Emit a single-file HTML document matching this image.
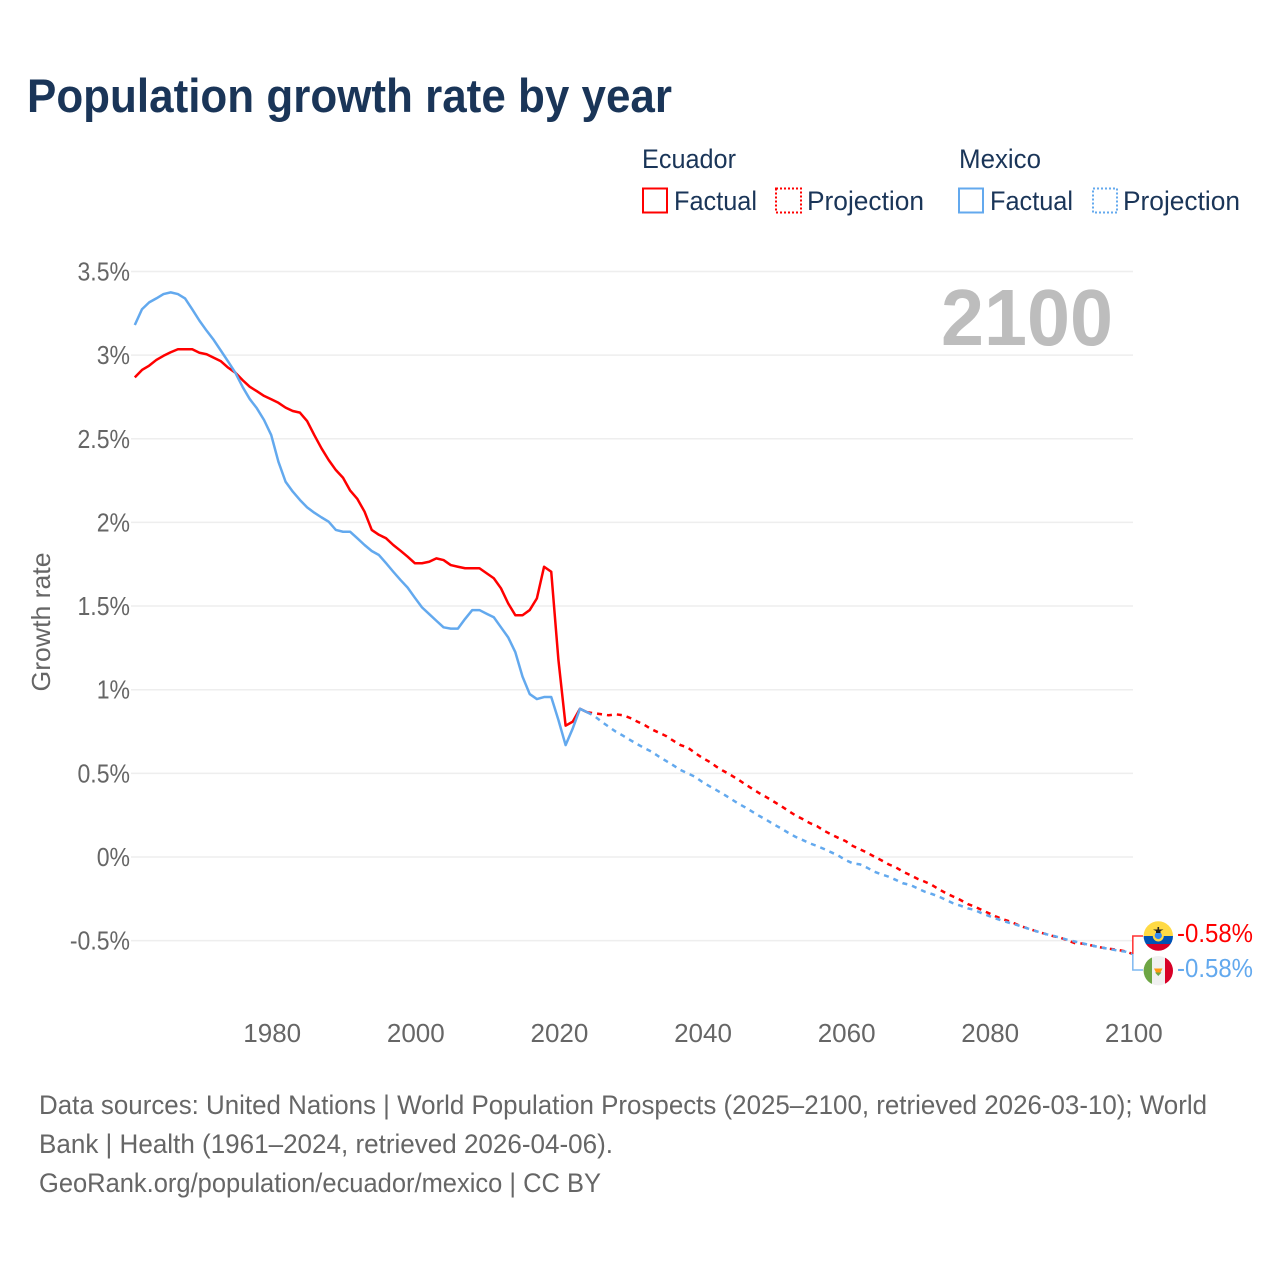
<!DOCTYPE html>
<html lang="en">
<head>
<meta charset="utf-8">
<title>Population growth rate by year</title>
<style>
html,body{margin:0;padding:0;background:#fff;}
svg{display:block;font-family:"Liberation Sans",sans-serif;}
.axis-text{font-size:26px;fill:#666;}
.legend-text{font-size:27px;fill:#1a3558;}
.source-text{font-size:27px;fill:#666;}
</style>
</head>
<body>
<svg id="chart" width="1280" height="1280" viewBox="0 0 1280 1280" xmlns="http://www.w3.org/2000/svg">
  <rect x="0" y="0" width="1280" height="1280" fill="#fff"/>
  <text x="27" y="112" font-size="47" font-weight="700" fill="#1a3558" textLength="645" lengthAdjust="spacingAndGlyphs">Population growth rate by year</text>

  <g>
    <text class="legend-text" x="642" y="168" textLength="94" lengthAdjust="spacingAndGlyphs">Ecuador</text>
    <text class="legend-text" x="959" y="168" textLength="82" lengthAdjust="spacingAndGlyphs">Mexico</text>
    <rect x="643" y="188.500" width="24" height="24" fill="none" stroke="#ff0000" stroke-width="2"/>
    <text class="legend-text" x="674" y="210" textLength="83" lengthAdjust="spacingAndGlyphs">Factual</text>
    <rect x="776" y="188.500" width="25" height="24" fill="none" stroke="#ff0000" stroke-width="2" stroke-dasharray="2 2"/>
    <text class="legend-text" x="807" y="210" textLength="117" lengthAdjust="spacingAndGlyphs">Projection</text>
    <rect x="959" y="188.500" width="24" height="24" fill="none" stroke="#63a9ee" stroke-width="2"/>
    <text class="legend-text" x="990" y="210" textLength="83" lengthAdjust="spacingAndGlyphs">Factual</text>
    <rect x="1093" y="188.500" width="24" height="24" fill="none" stroke="#63a9ee" stroke-width="2" stroke-dasharray="2 2"/>
    <text class="legend-text" x="1123" y="210" textLength="117" lengthAdjust="spacingAndGlyphs">Projection</text>
  </g>

  <g id="grid"></g>
  <text x="941" y="345" font-size="80" font-weight="700" fill="#bdbdbd" textLength="172" lengthAdjust="spacingAndGlyphs">2100</text>
  <g id="yTicks"></g>
  <g id="xTicks"></g>
  <text class="axis-text" transform="translate(50 622) rotate(-90)" text-anchor="middle" textLength="139" lengthAdjust="spacingAndGlyphs">Growth rate</text>
  <g id="series"></g>
  <g id="connectors"></g>

  <g>
    <clipPath id="clipEc"><circle cx="1158.300" cy="936" r="14.700"/></clipPath>
    <g clip-path="url(#clipEc)">
      <rect x="1143" y="921" width="31" height="15" fill="#ffda44"/>
      <rect x="1143" y="936" width="31" height="8" fill="#0052b4"/>
      <rect x="1143" y="944" width="31" height="8" fill="#d80027"/>
      <circle cx="1158.300" cy="936" r="5.500" fill="#ffda44" stroke="none"/>
      <circle cx="1158.300" cy="935.500" r="3.600" fill="#338af3"/>
      <path d="M1153 929.500h10.500l-3 1.500v2h-4.500v-2z" fill="#222"/>
      <rect x="1157.500" y="927" width="1.600" height="3" fill="#222"/>
    </g>
  </g>
  <g>
    <clipPath id="clipMx"><circle cx="1158.300" cy="970.700" r="14.700"/></clipPath>
    <g clip-path="url(#clipMx)">
      <rect x="1143" y="955" width="31" height="32" fill="#f0f0f0"/>
      <rect x="1143" y="955" width="9" height="32" fill="#6da544"/>
      <rect x="1165" y="955" width="9" height="32" fill="#d80027"/>
      <path d="M1154 968.500h8.500l-2 4h-4.500z" fill="#ff9811"/>
      <path d="M1155 972.500h6.500l-3.200 3.500z" fill="#6da544"/>
    </g>
  </g>
  <g id="endLabels"></g>

  <g>
    <text class="source-text" x="39" y="1114" textLength="1168" lengthAdjust="spacingAndGlyphs">Data sources: United Nations | World Population Prospects (2025–2100, retrieved 2026-03-10); World</text>
    <text class="source-text" x="39" y="1153" textLength="574" lengthAdjust="spacingAndGlyphs">Bank | Health (1961–2024, retrieved 2026-04-06).</text>
    <text class="source-text" x="39" y="1192" textLength="562" lengthAdjust="spacingAndGlyphs">GeoRank.org/population/ecuador/mexico | CC BY</text>
  </g>
</svg>
<script>
const factualStartYear = 1961;
const projectionStartYear = 2024;
const ecuadorFactual = [2.867,2.911,2.937,2.971,2.996,3.017,3.035,3.035,3.035,3.014,3.005,2.984,2.963,2.925,2.895,2.851,2.811,2.784,2.756,2.736,2.715,2.686,2.666,2.656,2.606,2.522,2.443,2.373,2.313,2.267,2.190,2.140,2.064,1.955,1.926,1.905,1.865,1.831,1.795,1.756,1.756,1.765,1.785,1.775,1.745,1.735,1.726,1.726,1.726,1.696,1.666,1.606,1.516,1.445,1.445,1.476,1.546,1.735,1.705,1.178,0.785,0.809,0.886,0.865];
const mexicoFactual = [3.18,3.274,3.315,3.339,3.365,3.375,3.365,3.339,3.274,3.206,3.146,3.09,3.026,2.961,2.895,2.811,2.738,2.682,2.612,2.522,2.363,2.243,2.184,2.134,2.09,2.058,2.03,2.004,1.955,1.944,1.944,1.905,1.865,1.829,1.805,1.756,1.705,1.656,1.61,1.55,1.492,1.452,1.412,1.373,1.365,1.365,1.423,1.476,1.476,1.454,1.433,1.373,1.313,1.224,1.078,0.974,0.944,0.956,0.956,0.819,0.669,0.769,0.886,0.865];
const ecuadorProjection = [0.865,0.859,0.853,0.847,0.853,0.847,0.831,0.809,0.789,0.763,0.743,0.723,0.695,0.669,0.655,0.623,0.594,0.570,0.540,0.514,0.490,0.464,0.435,0.408,0.381,0.357,0.331,0.305,0.277,0.249,0.227,0.203,0.185,0.157,0.135,0.114,0.095,0.066,0.046,0.026,0.002,-0.020,-0.044,-0.062,-0.088,-0.108,-0.130,-0.147,-0.167,-0.193,-0.217,-0.237,-0.257,-0.281,-0.297,-0.317,-0.337,-0.357,-0.373,-0.387,-0.406,-0.422,-0.436,-0.450,-0.462,-0.474,-0.484,-0.500,-0.516,-0.518,-0.526,-0.536,-0.544,-0.550,-0.556,-0.564,-0.58];
const mexicoProjection = [0.865,0.843,0.809,0.779,0.749,0.725,0.699,0.674,0.650,0.629,0.600,0.574,0.548,0.520,0.500,0.480,0.450,0.424,0.400,0.375,0.348,0.321,0.297,0.271,0.245,0.221,0.195,0.171,0.145,0.121,0.102,0.082,0.066,0.048,0.028,0.008,-0.018,-0.038,-0.044,-0.064,-0.088,-0.104,-0.118,-0.137,-0.157,-0.167,-0.187,-0.207,-0.221,-0.237,-0.257,-0.277,-0.291,-0.307,-0.317,-0.337,-0.353,-0.369,-0.383,-0.396,-0.408,-0.422,-0.436,-0.450,-0.462,-0.472,-0.484,-0.496,-0.506,-0.516,-0.526,-0.536,-0.544,-0.552,-0.560,-0.566,-0.58];
const yTickValues = [3.5,3,2.5,2,1.5,1,0.5,0,-0.5];
const yTickLabels = ["3.5%","3%","2.5%","2%","1.5%","1%","0.5%","0%","-0.5%"];
const xTickYears = [1980,2000,2020,2040,2060,2080,2100];

const NS = 'http://www.w3.org/2000/svg';
const RED = '#ff0000';
const BLUE = '#63a9ee';
function xScale(year){ return 134.8 + (year - 1961) * 7.18; }
function yScale(v){ return 857 - v * 167.3; }
function make(tag, parent, attrs){
  const el = document.createElementNS(NS, tag);
  for (const k in attrs) el.setAttribute(k, attrs[k]);
  parent.appendChild(el);
  return el;
}
function linePoints(values, startYear){
  return values.map(function(v, i){
    return xScale(startYear + i).toFixed(2) + ',' + yScale(v).toFixed(2);
  }).join(' ');
}

const gridG = document.getElementById('grid');
const yG = document.getElementById('yTicks');
yTickValues.forEach(function(v, i){
  const gl = make('line', gridG, {x1:131, x2:1133, y1:yScale(v), y2:yScale(v), stroke:'#eeeeee', 'stroke-width':1.5});
  
  
  const t = make('text', yG, {x:130, y:yScale(v) + 9, 'text-anchor':'end', class:'axis-text'});
  
  
  t.textContent = yTickLabels[i];
  const w = t.getComputedTextLength();
  t.setAttribute('textLength', (w * 0.885).toFixed(1));
  t.setAttribute('lengthAdjust', 'spacingAndGlyphs');
});

const xG = document.getElementById('xTicks');
xTickYears.forEach(function(yr){
  const t = make('text', xG, {x:xScale(yr) + 1, y:1042, 'text-anchor':'middle', class:'axis-text'});
  
  
  t.textContent = String(yr);
});

const seriesG = document.getElementById('series');
const ecProj = make('polyline', seriesG, {points:linePoints(ecuadorProjection, projectionStartYear), fill:'none', stroke:RED, 'stroke-width':2.5, 'stroke-dasharray':'5 5'});


const ecFact = make('polyline', seriesG, {points:linePoints(ecuadorFactual, factualStartYear), fill:'none', stroke:RED, 'stroke-width':2.5, 'stroke-linejoin':'round'});


const mxProj = make('polyline', seriesG, {points:linePoints(mexicoProjection, projectionStartYear), fill:'none', stroke:BLUE, 'stroke-width':2.5, 'stroke-dasharray':'5 5'});


const mxFact = make('polyline', seriesG, {points:linePoints(mexicoFactual, factualStartYear), fill:'none', stroke:BLUE, 'stroke-width':2.5, 'stroke-linejoin':'round'});



const connG = document.getElementById('connectors');
const ecEnd = ecuadorProjection[ecuadorProjection.length - 1];
const mxEnd = mexicoProjection[mexicoProjection.length - 1];
const endX = xScale(projectionStartYear + ecuadorProjection.length - 1);
const ecConn = make('polyline', connG, {points:endX + ',' + yScale(ecEnd) + ' ' + endX + ',936 1143,936', fill:'none', stroke:'#ff3030', 'stroke-width':1.5});


const mxConn = make('polyline', connG, {points:endX + ',' + yScale(mxEnd) + ' ' + endX + ',970 1143,970', fill:'none', stroke:'#7db8f0', 'stroke-width':1.5});



const labG = document.getElementById('endLabels');
const ecLab = make('text', labG, {x:1177, y:942, 'font-size':26, fill:RED, textLength:76, lengthAdjust:'spacingAndGlyphs'});


ecLab.textContent = ecEnd.toFixed(2) + '%';
const mxLab = make('text', labG, {x:1177, y:977, 'font-size':26, fill:BLUE, textLength:76, lengthAdjust:'spacingAndGlyphs'});


mxLab.textContent = mxEnd.toFixed(2) + '%';
</script>
</body>
</html>
